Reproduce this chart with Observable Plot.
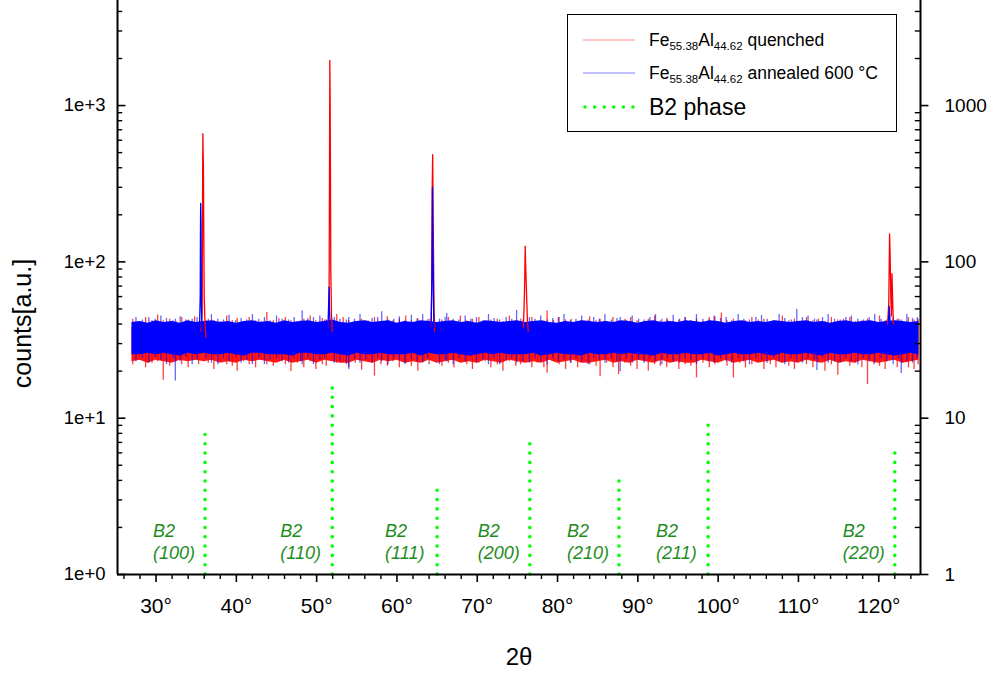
<!DOCTYPE html>
<html>
<head>
<meta charset="utf-8">
<script src="https://cdn.jsdelivr.net/npm/d3@7"></script>
<script src="https://cdn.jsdelivr.net/npm/@observablehq/plot@0.6"></script>
<style>
  body { margin: 0; background: #fff; font-family: "Liberation Sans", Arial, sans-serif; }
  #wrap { position: relative; width: 998px; height: 677px; }
  #legend { position: absolute; left: 567px; top: 14px; width: 330px; height: 118px;
            border: 1.5px solid #000; background: #fff; box-sizing: border-box; }
  .row { position: absolute; left: 0; height: 30px; display: flex; align-items: center; }
  .row svg { margin-left: 15px; margin-right: 14px; }
  .lt { font-size: 17.5px; color: #000; white-space: nowrap; }
  .lt sub { font-size: 11.5px; vertical-align: -4px; line-height: 0; }
</style>
</head>
<body>
<div id="wrap">
  <div id="legend">
    <div class="row" style="top:10px"><svg width="52" height="6"><line x1="0" x2="52" y1="3" y2="3" stroke="#ff0000" stroke-opacity="0.45" stroke-width="1.2"/></svg><span class="lt">Fe<sub>55.38</sub>Al<sub>44.62</sub> quenched</span></div>
    <div class="row" style="top:43px"><svg width="52" height="6"><line x1="0" x2="52" y1="3" y2="3" stroke="#0000ff" stroke-opacity="0.5" stroke-width="1.2"/></svg><span class="lt">Fe<sub>55.38</sub>Al<sub>44.62</sub> annealed 600 °C</span></div>
    <div class="row" style="top:77px"><svg width="52" height="8"><line x1="2" x2="52" y1="4" y2="4" stroke="#00ff00" stroke-width="3.5" stroke-linecap="round" stroke-dasharray="0 9.6"/></svg><span class="lt" style="font-size:23px">B2 phase</span></div>
  </div>
</div>
<script>
// ---- axis ticks ----
const xMajor = [30, 40, 50, 60, 70, 80, 90, 100, 110, 120];
const xMinor = [26, 28, 32, 34, 36, 38, 42, 44, 46, 48, 52, 54, 56, 58, 62, 64, 66, 68, 72, 74, 76, 78,
                82, 84, 86, 88, 92, 94, 96, 98, 102, 104, 106, 108, 112, 114, 116, 118, 122, 124];
const yMajor = [1, 10, 100, 1000];
const yMinor = [2, 3, 4, 5, 6, 7, 8, 9, 20, 30, 40, 50, 60, 70, 80, 90,
                200, 300, 400, 500, 600, 700, 800, 900, 2000, 3000, 4000];

// ---- dense background band (1° steps), counts ----
const noiseX = [27, 28, 29, 30, 31, 32, 33, 34, 35, 36,
  37, 38, 39, 40, 41, 42, 43, 44, 45, 46,
  47, 48, 49, 50, 51, 52, 53, 54, 55, 56,
  57, 58, 59, 60, 61, 62, 63, 64, 65, 66,
  67, 68, 69, 70, 71, 72, 73, 74, 75, 76,
  77, 78, 79, 80, 81, 82, 83, 84, 85, 86,
  87, 88, 89, 90, 91, 92, 93, 94, 95, 96,
  97, 98, 99, 100, 101, 102, 103, 104, 105, 106,
  107, 108, 109, 110, 111, 112, 113, 114, 115, 116,
  117, 118, 119, 120, 121, 122, 123, 124, 125];
const blueLo = [25.5, 25.5, 26, 25.5, 26, 25.5, 25, 26, 25.5, 26,
  25.5, 25.5, 26, 25.5, 25, 26, 26, 25.5, 25.5, 25.5,
  25, 26, 26, 25.5, 25.5, 26, 25.5, 25, 26, 25.5,
  25.5, 26, 25.5, 25.5, 25.5, 26, 25, 26, 25.5, 25.5,
  26, 25.5, 25, 25.5, 26, 25.5, 26, 25.5, 25.5, 25.5,
  26, 25, 25.5, 26, 25.5, 25.5, 25, 26, 25.5, 25.5,
  26, 25.5, 26, 25.5, 25.5, 25, 26, 25.5, 25.5, 26,
  25.5, 25.5, 26, 25, 25.5, 26, 25.5, 25.5, 26, 25.5,
  25, 26, 25.5, 25.5, 26, 25.5, 25, 26, 25.5, 25.5,
  26, 25.5, 25.5, 26, 25.5, 25, 25.5, 26, 25.5];
const blueHi = [41, 41.5, 40.5, 42, 41, 41.5, 40.5, 42, 41, 41.5,
  42, 41, 41.5, 40.5, 41.5, 42, 41, 41.5, 40.5, 42,
  41, 41.5, 42, 41, 41.5, 42.5, 41, 40.5, 41.5, 42,
  41, 41.5, 42, 40.5, 41.5, 41, 42, 41.5, 41, 41.5,
  42, 41, 41.5, 40.5, 42, 41.5, 41, 41.5, 42, 41,
  41.5, 42, 41, 40.5, 41.5, 41, 42, 41.5, 41, 41.5,
  41, 42, 41.5, 40.5, 41.5, 42, 41, 41.5, 41, 42,
  41.5, 41, 42, 41.5, 40.5, 41.5, 42, 41, 41.5, 41,
  42, 41.5, 41, 41.5, 42, 41, 41.5, 40.5, 41.5, 42,
  41, 41.5, 42, 41, 41.5, 42, 41.5, 41, 41.5];
const redLo = [23, 23.5, 22.5, 23.5, 23, 22.5, 23.5, 23, 23.5, 23,
  23.5, 22.5, 23, 22.5, 23.5, 23, 23.5, 23, 22.5, 23.5,
  22.5, 23, 23.5, 22.5, 23.5, 23, 22.5, 22.5, 23.5, 23,
  22.5, 23.5, 23, 23.5, 22.5, 23, 22.5, 23.5, 22.5, 23,
  23.5, 22.5, 23, 22.5, 23.5, 23, 22.5, 23.5, 23, 22.5,
  23, 22.5, 23.5, 22.5, 23, 23.5, 22.5, 22.5, 23, 23.5,
  22.5, 23, 22.5, 23.5, 23, 22.5, 23.5, 22.5, 23, 22.5,
  22.5, 23.5, 23, 22.5, 23.5, 22.5, 23, 23.5, 22.5, 23,
  23.5, 22.5, 23, 22.5, 23.5, 23, 22.5, 23.5, 22.5, 23,
  22.5, 23.5, 23, 22.5, 23, 23.5, 22.5, 23, 23.5];
const redHi = [38, 38.5, 38, 39, 38, 38.5, 38, 39, 38.5, 38,
  38.5, 38, 39, 38.5, 38, 39, 38, 38.5, 38, 38.5,
  39, 38, 38.5, 39, 38, 38.5, 38, 38.5, 38, 39,
  38.5, 38, 38, 39, 38.5, 38, 38.5, 38, 39, 38,
  38.5, 39, 38, 38.5, 38, 38, 39, 38.5, 38, 38.5,
  38, 38.5, 39, 38, 38.5, 38, 38, 39, 38.5, 38,
  39, 38, 38.5, 38, 39, 38, 38.5, 38, 38.5, 38,
  38, 38.5, 38, 39, 38, 38.5, 38, 39, 38, 38.5,
  38.5, 38, 39, 38.5, 38, 38.5, 38, 38.5, 39, 38,
  38, 38.5, 38, 38.5, 39, 38, 38.5, 38, 39];

// ---- noise excursions [2θ, low counts, high counts] ----
const redNoise = [[27.1,22,43],[27.9,23.5,41],[28.7,21,44],[29.5,22.5,42],[30.2,23,45.7],[30.9,17.5,42],[31.7,21.5,43],
  [32.5,23,41.5],[33.2,22,44],[34.0,21,42.5],[34.8,23.5,44.5],[35.3,22,41],[36.5,22.5,43],[37.2,20.5,42],[38.0,23,41.5],
  [38.8,22,45],[39.5,21.5,42],[40.1,20,43.5],[40.9,23,41],[41.6,22,44],[42.4,21,42],[43.1,23.5,41.5],[43.8,22,47.4],
  [44.6,21.5,42],[45.3,23,43.5],[46.1,22,44],[46.8,19.9,42],[47.6,22.5,41.5],[48.4,21,43],[49.2,23,45],[49.9,20.5,42],
  [50.7,22,43.5],[51.2,21.5,42.5],[52.5,22.5,46],[53.3,23,44],[54.0,21,42],[54.8,22.5,41.5],[55.6,20.3,43],[56.4,23,42],
  [57.2,18.6,44],[58.0,22,41.5],[58.8,21.5,44.5],[59.5,23,42],[60.3,21,43],[61.1,22.5,45],[61.8,21.5,42],[62.6,20,43.5],
  [63.4,23,41.5],[64.0,22,43],[65.6,21.5,42.5],[66.4,22.5,44],[67.1,21,41.5],[67.9,23,45],[68.7,22,42],[69.4,20.5,43],
  [70.2,22.5,44],[71.0,23,41.5],[71.7,21,42.5],[72.5,22,43],[73.2,20,41.5],[74.0,23,45],[74.8,21.5,42],[75.4,22,43],
  [76.8,21,44],[77.5,22.5,41.5],[78.3,21,42],[78.7,19.4,48.5],[79.5,23,42],[80.2,22,44],[81.0,20.5,42.5],[81.7,22.5,43],
  [82.5,21,41.5],[83.3,23,42],[84.0,22,44.5],[84.8,21.5,42],[85.3,18.4,43],[86.1,22.5,41.5],[86.9,21,44],[87.6,19,42],
  [88.4,22.5,43],[89.1,21.5,44],[89.9,20.5,42],[90.7,23,41.5],[91.3,20,43],[92.1,22,45],[92.8,21.5,42],[93.6,21,43.5],
  [94.4,23,41.5],[95.1,20.5,42.5],[95.9,22,44],[96.6,21.5,42],[97.3,18.1,43],[98.1,22.5,41.5],[98.9,21,44],[99.6,22,44.5],
  [100.4,23,47],[101.1,21.5,42],[101.9,18.1,43],[102.7,22.5,41.5],[103.4,21,42],[104.2,22,44],[105.0,23,42.5],
  [105.7,20.5,43],[106.5,22,41.5],[107.2,21,42],[108.0,22.5,45],[108.8,21.5,42],[109.5,20.5,43],[110.3,23,41.5],
  [111.0,22,44],[111.8,21,42],[112.5,22.5,43],[113.3,20,41.5],[114.1,22,44],[114.9,18.8,42.5],[115.6,23,43],
  [116.4,21.5,44],[117.1,22.5,41.5],[117.9,21,42],[118.6,16.4,43],[119.4,22,41.5],[120.1,21.5,45],[120.8,20.5,42],
  [122.3,21,43],[123.0,22.5,41.5],[123.7,21,44],[124.4,20.5,42.5],[124.9,22,43]];
const blueNoise = [[27.5,23,44],[28.3,24,42.5],[29.1,22.5,44],[29.9,24.5,43],[30.6,23.5,45],[31.3,22,43.5],[32.1,24,42],
  [32.4,17.3,43],[33.0,23,44.5],[33.7,24.5,42.5],[34.5,22,43],[35.1,23.5,44],[36.2,24,42],[36.9,22.5,46],[37.7,22,43],
  [38.4,24,42.5],[39.1,23,45.5],[39.9,24.5,42],[40.6,22.5,43.5],[41.3,23.5,42.5],[42.0,22,46],[42.8,24,43],[43.5,22,44],
  [44.2,23.5,42],[45.0,24,45],[45.7,23,43],[46.5,22.5,42.5],[47.2,24,44],[48.0,23,42],[48.2,22,48.5],[48.9,24,43.5],
  [49.6,22,44],[50.4,23.5,45],[51.0,24,42.5],[52.2,22.5,44],[52.9,23,43],[53.7,22,42.5],[54.0,20.5,44],[54.7,24,43],
  [55.4,22.5,46],[56.1,23.5,42],[56.9,22.5,43.5],[57.6,24,44],[58.1,23,48],[58.9,22,42.5],[59.6,24,43],[60.3,23.5,44.5],
  [61.0,22,42],[61.8,24,45.5],[62.5,23,43],[63.2,22.5,46],[63.8,24,42.5],[65.3,22,43],[66.0,23.5,44],[66.2,23,46.8],
  [67.0,22,43],[67.7,24,42.5],[68.5,23,45],[69.2,24.5,43],[69.9,22.5,44],[70.7,23.5,42],[71.4,22,46],[72.1,24,43.5],
  [72.8,22,42.5],[73.6,23.5,44],[74.3,24,43],[74.9,22.5,48.9],[75.7,23,42.5],[76.5,22.5,44],[77.2,24,43],[77.9,23,45],
  [78.7,22,42.5],[79.4,24,43.5],[80.1,23,44],[80.8,23.5,46],[81.6,22.5,42],[82.3,24,43],[83.0,23,45],[83.8,22,42.5],
  [84.5,24,44],[85.2,23.5,43],[85.9,22.5,46],[86.7,24,42.5],[87.4,23,43.5],[87.8,19.8,44],[88.6,24,42],[89.3,22.5,45],
  [90.1,23.5,43],[90.8,22.5,42.5],[91.5,24,44],[92.2,23,46],[93.0,22,43],[93.7,24,42.5],[94.4,23,45.5],[95.2,22.5,43],
  [95.9,24,44],[96.6,23.5,42],[97.3,22,46],[98.1,24,43],[98.8,23,42.5],[99.5,22.5,45],[100.3,24,43.5],[101.0,23,44],
  [101.7,22.5,42],[102.5,24,46],[103.2,23,43],[103.9,22,42.5],[104.7,24,44],[105.4,23.5,45.5],[106.1,22.5,43],
  [106.9,24,42],[107.6,23,46],[108.3,22,43.5],[109.1,24,42.5],[109.8,23,49.5],[110.5,22.5,44],[111.2,24,45],
  [112.0,23.5,43],[112.3,20.2,42.5],[113.0,24,44],[113.7,22.5,46],[114.5,23,43],[115.2,22.5,42.5],[115.9,24,44],
  [116.6,23,45],[117.4,22,43],[118.1,24,42.5],[118.8,23,44],[119.5,22.5,46],[120.3,24,43],[121.0,23,42.5],[121.8,22,44],
  [122.5,24,43],[122.8,19.3,42.5],[123.5,23,46],[124.2,22.5,43.5],[124.8,24,44]];

// ---- diffraction peaks [2θ, counts] ----
const redPeaks = [
  [[35.6,36],[35.75,48],[35.8,295],[35.83,660],[35.86,516],[35.9,420],[35.93,223],[35.97,95],[36.0,60],[36.1,40],[36.2,33]],
  [[51.45,38],[51.55,60],[51.6,368],[51.64,1944],[51.68,1130],[51.72,368],[51.76,90],[51.85,45],[51.95,36]],
  [[64.25,38],[64.35,80],[64.4,317],[64.45,485],[64.5,237],[64.55,120],[64.62,50],[64.7,36]],
  [[75.75,38],[75.85,55],[75.92,80],[75.97,126],[76.02,100],[76.08,80],[76.15,60],[76.25,42],[76.35,36]],
  [[121.1,40],[121.25,55],[121.35,151],[121.42,110],[121.5,60],[121.58,45],[121.65,84],[121.72,60],[121.82,40]]
];
const bluePeaks = [
  [[35.4,35],[35.5,60],[35.53,144],[35.56,237],[35.6,180],[35.65,50],[35.75,35]],
  [[51.4,36],[51.5,55],[51.55,69],[51.6,50],[51.7,36]],
  [[64.25,36],[64.35,76],[64.42,300],[64.46,151],[64.52,76],[64.6,38]],
  [[121.2,40],[121.3,52],[121.4,42]]
];

// ---- B2 phase reference reflections ----
const b2Pos = [36.1, 51.95, 65.0, 76.55, 87.65, 98.75, 122.0];
const b2Height = [7.9, 16.2, 3.48, 6.9, 4.0, 9.0, 6.0];
const b2Labels = ["(100)", "(110)", "(111)", "(200)", "(210)", "(211)", "(220)"];

// ---- build ----
const X0 = 25.2, X1 = 125.2, YTOP = 4700;
const band = noiseX.map((x, i) => ({x, rLo: redLo[i], rHi: redHi[i], bLo: blueLo[i], bHi: blueHi[i]}));
const flat = (arr) => arr.flatMap((pk, k) => pk.map(([x, y]) => ({x, y, k})));
const redPk = flat(redPeaks), bluePk = flat(bluePeaks);
const FONT = "Liberation Sans, Arial, sans-serif";

const chart = Plot.plot({
  width: 998, height: 677,
  marginLeft: 117, marginRight: 78, marginTop: 0, marginBottom: 103,
  style: {fontFamily: FONT, background: "#fff", overflow: "visible"},
  x: {domain: [X0, X1]},
  y: {type: "log", domain: [1, YTOP]},
  marks: [
    // quenched (red)
    Plot.areaY(band, {x: "x", y1: "rLo", y2: "rHi", fill: "#ff0000", fillOpacity: 0.9}),
    Plot.ruleX(redNoise, {x: d => d[0], y1: d => d[1], y2: d => d[2], stroke: "#ff0000", strokeWidth: 1.3, strokeOpacity: 0.75}),
    // annealed (blue)
    Plot.areaY(band, {x: "x", y1: "bLo", y2: "bHi", fill: "#0000ff"}),
    Plot.ruleX(blueNoise, {x: d => d[0], y1: d => d[1], y2: d => d[2], stroke: "#0000ff", strokeWidth: 1.3, strokeOpacity: 0.6}),
    Plot.lineY(redPk, {x: "x", y: "y", z: "k", stroke: "#ff0000", strokeWidth: 1.3}),
    Plot.lineY(bluePk, {x: "x", y: "y", z: "k", stroke: "#0000ff", strokeWidth: 1.3}),
    // B2 reference lines
    Plot.ruleX(b2Pos, {x: d => d, y1: 1, y2: (d, i) => b2Height[i], stroke: "#00ff00", strokeWidth: 3.6,
      strokeDasharray: "0 9.3", strokeLinecap: "round"}),
    Plot.text(b2Pos, {x: d => d, text: (d, i) => "B2\n" + b2Labels[i], frameAnchor: "bottom", lineAnchor: "bottom",
      textAnchor: "start", dx: -52, dy: -16, fontStyle: "italic", fill: "#1f8c1f", fontSize: 18, lineHeight: 1.22,
      fontFamily: FONT}),
    // axis frame lines
    Plot.ruleX([X0, X1], {y1: 1, y2: YTOP, stroke: "#000", strokeWidth: 2}),
    Plot.ruleY([1], {x1: X0, x2: X1, stroke: "#000", strokeWidth: 2}),
    // y ticks: left inward, right minor inward / major outward
    Plot.ruleY(yMajor, {x1: X0, x2: X0 + 1.05, stroke: "#000", strokeWidth: 1.6}),
    Plot.ruleY(yMinor, {x1: X0, x2: X0 + 0.65, stroke: "#000", strokeWidth: 1.4}),
    Plot.ruleY(yMajor, {x1: X1, x2: X1 + 1.05, stroke: "#000", strokeWidth: 1.6}),
    Plot.ruleY(yMinor, {x1: X1 - 0.65, x2: X1, stroke: "#000", strokeWidth: 1.4}),
    Plot.axisY({anchor: "left", ticks: yMajor, tickSize: 0, tickPadding: 12, label: null,
      tickFormat: d => "1e+" + Math.round(Math.log10(d)), fontSize: 18.5, fill: "#000"}),
    Plot.axisY({anchor: "right", ticks: yMajor, tickSize: 0, tickPadding: 24, label: null,
      tickFormat: d => String(d), fontSize: 19, fill: "#000"}),
    // x ticks
    Plot.axisX({ticks: xMajor, tickSize: 8, tickPadding: 16, label: null, strokeWidth: 1.6,
      tickFormat: d => d + "°", fontSize: 21, fill: "#000"}),
    Plot.axisX({ticks: xMinor, tickSize: 5, label: null, strokeWidth: 1.4, tickFormat: () => ""}),
    // axis titles
    Plot.text(["2θ"], {frameAnchor: "bottom", dy: 90, fontSize: 24, fill: "#000", fontFamily: FONT}),
    Plot.text(["counts[a.u.]"], {frameAnchor: "left", textAnchor: "middle", dx: -95, dy: 36, rotate: -90,
      fontSize: 25, fill: "#000", fontFamily: FONT})
  ]
});
document.getElementById("wrap").insertBefore(chart, document.getElementById("legend"));
chart.style.position = "absolute";
chart.style.left = "0px";
chart.style.top = "0px";
</script>
</body>
</html>
